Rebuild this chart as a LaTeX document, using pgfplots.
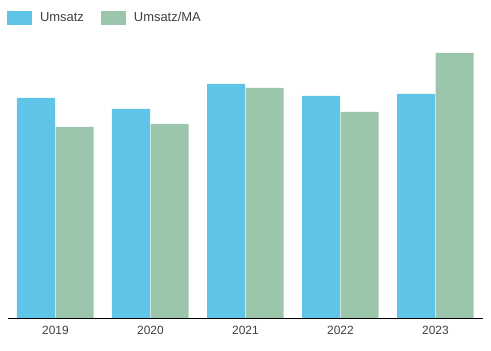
\documentclass[border=0pt]{standalone}
\usepackage{pgfplots}
\pgfplotsset{compat=1.18}
\usepackage{fontspec}
\setmainfont{Liberation Sans}
\definecolor{cUms}{HTML}{5FC4E8}
\definecolor{cMA}{HTML}{9BC6AC}
\definecolor{txt}{HTML}{404040}
\begin{document}
\begin{tikzpicture}
\useasboundingbox (-8bp,-33bp) rectangle (483bp,318bp);
\begin{axis}[
  at={(0,0)}, anchor=south west,
  scale only axis, width=475bp, height=300bp,
  xmin=-0.5, xmax=4.5, ymin=0, ymax=300,
  axis y line=none,
  axis x line*=bottom,
  x axis line style={-, black, line width=0.8bp},
  xtick={0,1,2,3,4},
  xticklabels={2019,2020,2021,2022,2023},
  major tick length=0pt,
  xticklabel style={font=\fontsize{12}{14}\selectfont, text=txt, yshift=-5bp},
  ybar, bar width=38bp,
  legend columns=2,
  legend style={draw=none, fill=none, at={(axis description cs:-0.002,1.0)}, anchor=west,
    font=\fontsize{13}{15}\selectfont, text=txt, inner sep=0pt, outer sep=0pt,
    /tikz/every odd column/.style={column sep=6bp},
    /tikz/every even column/.style={column sep=15bp}},
  legend cell align=left,
  legend image code/.code={\fill[#1] (0bp,-6.5bp) rectangle (25bp,6.5bp);},
]
\addplot[fill=cUms, draw=none, bar shift=-19.5bp] coordinates {(0,220) (1,209) (2,234) (3,222) (4,224)};
\addplot[fill=cMA, draw=none, bar shift=19bp] coordinates {(0,191) (1,194) (2,230) (3,206) (4,265)};
\legend{Umsatz, Umsatz/MA}
\end{axis}
\end{tikzpicture}
\end{document}
